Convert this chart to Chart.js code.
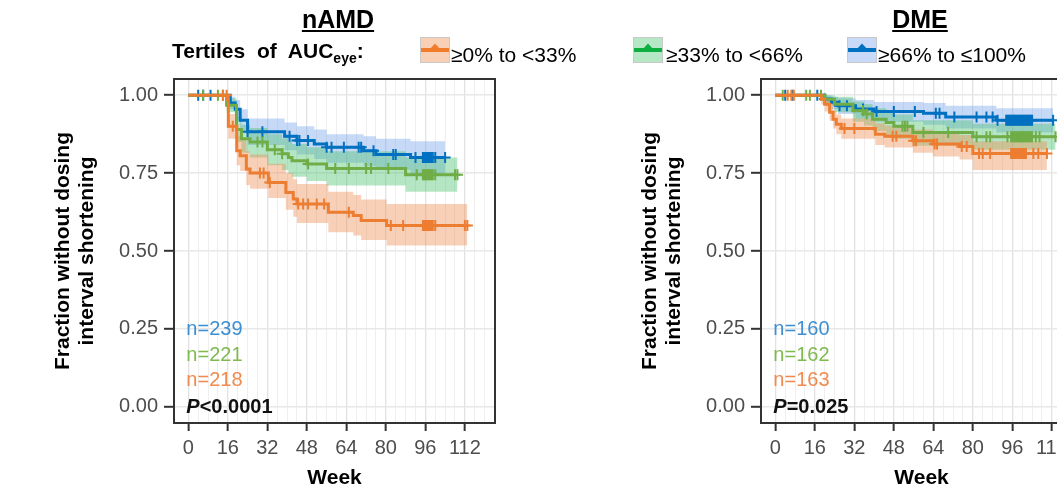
<!DOCTYPE html>
<html>
<head>
<meta charset="utf-8">
<script src="https://cdn.jsdelivr.net/npm/chart.js@4.4.1/dist/chart.umd.min.js"></script>
<style>
  html, body { margin: 0; padding: 0; background: #fff; }
  body { width: 1057px; height: 490px; overflow: hidden; position: relative; font-family: "Liberation Sans", Arial, sans-serif; color: #000; }
  canvas { position: absolute; top: 0; }
  .ttl { position: absolute; top: 7px; font-size: 25px; line-height: 25px; font-weight: bold; text-decoration: underline; transform: translateX(-50%); white-space: nowrap; }
  .lgTitle { position: absolute; left: 172px; top: 40px; font-size: 21px; line-height: 21px; font-weight: bold; word-spacing: 6px; white-space: nowrap; }
  .lgTitle sub { font-size: 14px; vertical-align: -5px; line-height: 0; word-spacing: 0; }
  .key { position: absolute; top: 37px; }
  .lgText { position: absolute; top: 44px; font-size: 21px; line-height: 21px; white-space: nowrap; }
</style>
</head>
<body>
<canvas id="amdChart" width="510" height="490" style="left:0"></canvas>
<canvas id="dmeChart" width="510" height="490" style="left:587px"></canvas>

<div class="ttl" style="left:338px">nAMD</div>
<div class="ttl" style="left:920px">DME</div>
<div class="lgTitle">Tertiles of AUC<sub>eye</sub>:</div>
<div id="legend"></div>

<script>
// --- DATA ---
const weekTicks = [0, 16, 32, 48, 64, 80, 96, 112];
const weekGrid = [0, 4, 8, 12, 16, 20, 24, 28, 32, 36, 40, 44, 48, 52, 56, 60, 64, 68, 72, 76, 80, 84, 88, 92, 96, 100, 104, 108, 112, 116, 120];
const fracTicks = [0, 0.25, 0.5, 0.75, 1];
const tertiles = ['≥0% to <33%', '≥33% to <66%', '≥66% to ≤100%'];

// nAMD - lowest tertile
const amdLowWk = [0, 16.2, 19.6, 21, 23.5, 25, 32.4, 39.5, 42.5, 44, 56.7, 66.8, 70, 80.3];
const amdLowS  = [1, 0.90, 0.822, 0.806, 0.763, 0.75, 0.72, 0.688, 0.667, 0.651, 0.624, 0.614, 0.598, 0.582];
const amdLowHi = [1, 0.94, 0.87, 0.86, 0.82, 0.81, 0.78, 0.75, 0.73, 0.715, 0.69, 0.68, 0.665, 0.651];
const amdLowLo = [1, 0.86, 0.775, 0.757, 0.712, 0.70, 0.67, 0.632, 0.61, 0.59, 0.56, 0.55, 0.535, 0.518];
const amdLowCens = [14, 15.5, 18, 29, 30.5, 33, 44.5, 46.5, 48.5, 52, 55, 65, 82, 87, 95, 95.5, 96, 96.5, 97, 97.5, 98, 98.5, 99, 100, 112, 113];

// nAMD - middle tertile
const amdMidWk = [0, 15.5, 19.5, 21.5, 25, 32, 38, 40.5, 42, 48, 56, 88];
const amdMidS  = [1, 0.968, 0.89, 0.86, 0.85, 0.825, 0.812, 0.80, 0.79, 0.779, 0.765, 0.745];
const amdMidHi = [1, 0.99, 0.93, 0.905, 0.895, 0.875, 0.862, 0.852, 0.843, 0.833, 0.82, 0.80];
const amdMidLo = [1, 0.945, 0.85, 0.815, 0.80, 0.775, 0.76, 0.748, 0.738, 0.725, 0.71, 0.69];
const amdMidCens = [6, 12, 14, 28, 30, 35, 38, 48.5, 59.5, 65, 72, 74, 81, 92.5, 95, 95.5, 96, 96.5, 97, 97.5, 98, 98.5, 99, 100, 108, 109];

// nAMD - highest tertile
const amdHighWk = [0, 17, 19, 21, 24, 39, 44, 51, 56, 71, 76, 90];
const amdHighS  = [1, 0.975, 0.955, 0.92, 0.883, 0.868, 0.855, 0.843, 0.833, 0.822, 0.81, 0.80];
const amdHighHi = [1, 0.995, 0.985, 0.955, 0.925, 0.912, 0.90, 0.89, 0.875, 0.868, 0.86, 0.852];
const amdHighLo = [1, 0.955, 0.925, 0.885, 0.84, 0.823, 0.81, 0.795, 0.783, 0.772, 0.76, 0.748];
const amdHighCens = [4, 6, 9, 24, 30, 41, 44, 45, 48.5, 56, 58, 63, 69, 70, 75, 83, 84, 92, 95, 95.5, 96, 96.5, 97, 97.5, 98, 98.5, 99, 100, 104];

// DME - lowest tertile
const dmeLowWk = [0, 18.6, 20, 22, 23.4, 24.7, 26.7, 40.5, 44.3, 55.7, 63.8, 74.6, 80];
const dmeLowS  = [1, 0.987, 0.971, 0.945, 0.923, 0.907, 0.893, 0.875, 0.868, 0.854, 0.843, 0.835, 0.813];
const dmeLowHi = [1, 1, 0.99, 0.97, 0.952, 0.938, 0.925, 0.91, 0.903, 0.89, 0.88, 0.872, 0.852];
const dmeLowLo = [1, 0.97, 0.948, 0.918, 0.893, 0.875, 0.86, 0.84, 0.832, 0.815, 0.803, 0.794, 0.76];
const dmeLowCens = [5, 6.5, 7.5, 28, 32, 47.5, 49, 56, 57, 64.5, 65.5, 75.5, 77.5, 82.5, 84, 87, 95.5, 96, 96.5, 97, 97.5, 98, 98.5, 99, 99.5, 100, 100.5, 101, 101.5, 104.5, 106.5, 110];

// DME - middle tertile
const dmeMidWk = [0, 20, 24, 31.4, 36, 39.4, 44.9, 48, 55.7, 80];
const dmeMidS  = [1, 0.987, 0.971, 0.95, 0.94, 0.923, 0.912, 0.90, 0.88, 0.867];
const dmeMidHi = [1, 1, 0.995, 0.98, 0.972, 0.958, 0.948, 0.938, 0.92, 0.908];
const dmeMidLo = [1, 0.968, 0.945, 0.915, 0.903, 0.885, 0.872, 0.86, 0.838, 0.825];
const dmeMidCens = [3, 12.5, 14, 18.5, 35.5, 37, 51.5, 52.5, 53.5, 60, 70, 81.5, 85.5, 87, 94, 95.5, 96, 96.5, 97, 97.5, 98, 98.5, 99, 99.5, 100, 100.5, 101, 101.5, 102, 102.5, 103, 103.5, 104, 105.5, 107, 113.5];

// DME - highest tertile
const dmeHighWk = [0, 20, 22.7, 25.4, 32.5, 40, 60, 69, 89.5];
const dmeHighS  = [1, 0.988, 0.977, 0.966, 0.956, 0.948, 0.942, 0.93, 0.92];
const dmeHighHi = [1, 1, 0.995, 0.99, 0.985, 0.978, 0.975, 0.966, 0.958];
const dmeHighLo = [1, 0.97, 0.955, 0.94, 0.925, 0.915, 0.905, 0.893, 0.88];
const dmeHighCens = [4, 7, 17, 20, 26, 29, 35.5, 41, 48, 56.5, 65, 66.5, 72.5, 81.5, 85.5, 88, 90, 93.5, 94, 94.5, 95, 95.5, 96, 96.5, 97, 97.5, 98, 98.5, 99, 99.5, 100, 100.5, 101, 101.5, 102, 102.5, 103, 103.5, 104, 112.5];

const amdN = ['n=239', 'n=221', 'n=218'];
const dmeN = ['n=160', 'n=162', 'n=163'];
const amdP = '<0.0001';
const dmeP = '=0.025';

// --- COLOURS ---
const lineColors = ['#ED7D31', '#70AD47', '#0070C0'];
const bandColors = ['rgba(237,138,77,0.4)', 'rgba(70,192,107,0.4)', 'rgba(112,160,235,0.4)'];
const keyFill = ['#F9D0B6', '#B6E8C6', '#C8DAF8'];
const keyLine = ['#F07C2C', '#0DB040', '#0070C0'];
const nColors = ['#3D8FD2', '#7FBA4F', '#F08A4E'];

// --- LEGEND (header) ---
const keyX = [420, 633, 847];
const textX = [451, 666, 878];
const legend = document.getElementById('legend');
tertiles.forEach((t, i) => {
    legend.insertAdjacentHTML('beforeend',
        `<svg class="key" style="left:${keyX[i]}px" width="30" height="26">
           <rect x="0.5" y="0.5" width="29" height="25" fill="${keyFill[i]}" stroke="#c9c9c9"/>
           <line x1="1" y1="13" x2="29" y2="13" stroke="${keyLine[i]}" stroke-width="4"/>
           <polygon points="9,13 21,13 15,6.5" fill="${keyLine[i]}"/>
         </svg>
         <div class="lgText" style="left:${textX[i]}px">${t.replace('<', '&lt;')}</div>`);
});

// --- HELPERS ---
function stepData(wk, vals, end) {
    const pts = wk.map((w, i) => ({ x: w, y: vals[i] }));
    pts.push({ x: end, y: vals[vals.length - 1] });
    return pts;
}

function survAt(wk, s, t) {
    let v = 1;
    for (let i = 0; i < wk.length; i++) if (wk[i] <= t) v = s[i];
    return v;
}

function lineData(c) {
    const pts = c.wk.map((w, i) => ({ x: w, y: c.s[i], cens: false }));
    c.cens.forEach(t => pts.push({ x: t, y: survAt(c.wk, c.s, t), cens: true }));
    pts.sort((a, b) => a.x - b.x);
    return pts;
}

function curveSets(c, k) {
    const end = Math.max(...c.cens);
    return [
        { data: stepData(c.wk, c.hi, end), stepped: true, borderWidth: 0, borderColor: 'transparent',
          pointRadius: 0, fill: false, order: 2 },
        { data: stepData(c.wk, c.lo, end), stepped: true, borderWidth: 0, borderColor: 'transparent',
          pointRadius: 0, fill: '-1', backgroundColor: bandColors[k], order: 2 },
        { data: lineData(c), stepped: true, borderColor: lineColors[k], borderWidth: 3, fill: false, order: 1,
          pointStyle: 'cross', pointRadius: ctx => (ctx.raw && ctx.raw.cens) ? 5.5 : 0,
          pointBorderColor: lineColors[k], pointBorderWidth: 2, pointHoverRadius: 0 }
    ];
}

// frame + n / P annotations
const framePlugin = {
    id: 'frame',
    afterDatasetsDraw(chart, args, opts) {
        const { ctx, chartArea: a, scales: { x, y } } = chart;
        ctx.save();
        ctx.textBaseline = 'middle';
        ctx.textAlign = 'left';
        const tx = x.getPixelForValue(-0.8);
        const rows = [0.247, 0.166, 0.086];
        opts.n.forEach((t, i) => {
            ctx.font = '20px "Liberation Sans", Arial, sans-serif';
            ctx.fillStyle = nColors[i];
            ctx.fillText(t, tx, y.getPixelForValue(rows[i]));
        });
        const py = y.getPixelForValue(-0.003);
        ctx.fillStyle = '#111';
        ctx.font = 'italic bold 20px "Liberation Sans", Arial, sans-serif';
        ctx.fillText('P', tx, py);
        const w = ctx.measureText('P').width;
        ctx.font = 'bold 20px "Liberation Sans", Arial, sans-serif';
        ctx.fillText(opts.p, tx + w, py);

        ctx.strokeStyle = '#333';
        ctx.lineWidth = 2;
        ctx.strokeRect(a.left, a.top, a.right - a.left, a.bottom - a.top);
        ctx.restore();
    }
};

function makeChart(id, curves, nLabels, pText) {
    let datasets = [];
    curves.forEach((c, k) => { datasets = datasets.concat(curveSets(c, k)); });

    return new Chart(document.getElementById(id), {
        type: 'line',
        data: { datasets },
        plugins: [framePlugin],
        options: {
            responsive: false,
            animation: false,
            devicePixelRatio: 1,
            events: [],
            layout: { padding: { top: 79, right: 15, left: 0, bottom: 0 } },
            plugins: {
                legend: { display: false },
                tooltip: { enabled: false },
                frame: { n: nLabels, p: pText }
            },
            scales: {
                x: {
                    type: 'linear', min: -5.8, max: 124.2,
                    afterBuildTicks: s => { s.ticks = weekGrid.map(v => ({ value: v })); },
                    afterFit: s => { s.height = 67; },
                    ticks: {
                        autoSkip: false, maxRotation: 0, padding: 5,
                        color: '#4d4d4d', font: { size: 20 },
                        callback: v => weekTicks.includes(v) ? String(v) : ''
                    },
                    grid: {
                        color: ctx => weekTicks.includes(ctx.tick.value) ? '#e2e2e2' : '#efefef',
                        lineWidth: ctx => weekTicks.includes(ctx.tick.value) ? 1.3 : 1,
                        tickColor: ctx => weekTicks.includes(ctx.tick.value) ? '#333' : 'rgba(0,0,0,0)',
                        tickLength: 8, tickWidth: 2
                    },
                    border: { display: false },
                    title: { display: true, text: 'Week', color: '#000',
                             font: { size: 21, weight: 'bold', lineHeight: 1.15 }, padding: { top: 0, bottom: 0 } }
                },
                y: {
                    type: 'linear', min: -0.052, max: 1.052,
                    afterBuildTicks: s => { s.ticks = fracTicks.map(v => ({ value: v })); },
                    afterFit: s => { s.width = 174; },
                    ticks: { padding: 6, color: '#4d4d4d', font: { size: 20 }, callback: v => v.toFixed(2) },
                    grid: { color: '#e8e8e8', lineWidth: 1.6, tickColor: '#333', tickLength: 10, tickWidth: 2 },
                    border: { display: false },
                    title: { display: true, text: ['Fraction without dosing', 'interval shortening'], color: '#000',
                             font: { size: 21, weight: 'bold', lineHeight: 1.15 }, padding: { top: 51, bottom: 0 } }
                }
            }
        }
    });
}

// --- CHARTS ---
Chart.defaults.font.family = '"Liberation Sans", Arial, sans-serif';

makeChart('amdChart', [
    { wk: amdLowWk, s: amdLowS, hi: amdLowHi, lo: amdLowLo, cens: amdLowCens },
    { wk: amdMidWk, s: amdMidS, hi: amdMidHi, lo: amdMidLo, cens: amdMidCens },
    { wk: amdHighWk, s: amdHighS, hi: amdHighHi, lo: amdHighLo, cens: amdHighCens }
], amdN, amdP);

makeChart('dmeChart', [
    { wk: dmeLowWk, s: dmeLowS, hi: dmeLowHi, lo: dmeLowLo, cens: dmeLowCens },
    { wk: dmeMidWk, s: dmeMidS, hi: dmeMidHi, lo: dmeMidLo, cens: dmeMidCens },
    { wk: dmeHighWk, s: dmeHighS, hi: dmeHighHi, lo: dmeHighLo, cens: dmeHighCens }
], dmeN, dmeP);
</script>
</body>
</html>
